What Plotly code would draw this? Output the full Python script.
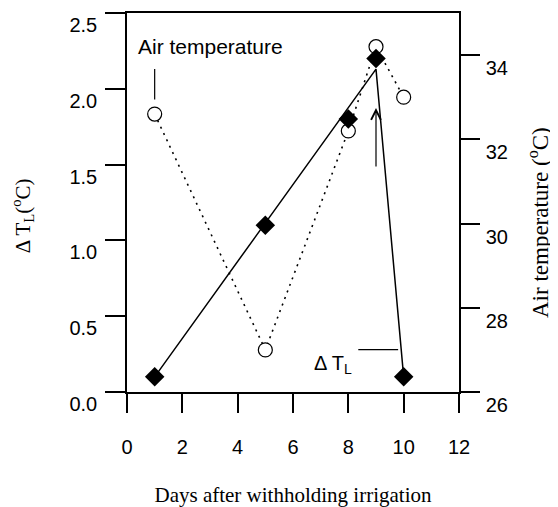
import plotly.graph_objects as go

# ---- data ----
days = [1, 5, 8, 9, 10]
delta_tl = [0.1, 1.1, 1.8, 2.2, 0.1]          # left axis, deg C
air_temp = [32.6, 27.0, 32.2, 34.2, 33.0]     # right axis, deg C
fit_days = [1, 9, 10]                           # fitted ΔT_L line
fit_delta = [0.1, 2.13, 0.1]

x_ticks = [0, 2, 4, 6, 8, 10, 12]
left_ticks = [0.0, 0.5, 1.0, 1.5, 2.0, 2.5]
left_labels = ["0.0", "0.5", "1.0", "1.5", "2.0", "2.5"]
right_ticks = [26, 28, 30, 32, 34]

SANS = "Liberation Sans, Arial, sans-serif"
SERIF = "Liberation Serif, Times New Roman, serif"
BLACK = "#000000"

fig = go.Figure()

# Air temperature (primary y, drawn on the right)
fig.add_trace(go.Scatter(
    x=days, y=air_temp, mode="lines+markers", yaxis="y",
    line=dict(color=BLACK, width=1.6, dash="2px,5px"),
    marker=dict(symbol="circle", size=14, color="white",
                line=dict(color=BLACK, width=1.2)),
    showlegend=False, cliponaxis=False))

# ΔT_L fitted line and points (overlay y2, drawn on the left)
fig.add_trace(go.Scatter(
    x=fit_days, y=fit_delta, mode="lines", yaxis="y2",
    line=dict(color=BLACK, width=1.5), showlegend=False))
fig.add_trace(go.Scatter(
    x=days, y=delta_tl, mode="markers", yaxis="y2",
    marker=dict(symbol="diamond", size=15, color=BLACK,
                line=dict(color=BLACK, width=0)),
    showlegend=False, cliponaxis=False))

# annotations / leader lines
fig.add_shape(type="line", xref="x", yref="y2", x0=1, x1=1, y0=1.93, y1=2.13,
              line=dict(color=BLACK, width=1.2))
fig.add_annotation(x=1, y=2.28, xref="x", yref="y2", xanchor="left",
                   xshift=-19, text="Air temperature", showarrow=False,
                   font=dict(family=SANS, size=21, color=BLACK))
fig.add_shape(type="line", xref="x", yref="y2", x0=8.36, x1=9.8, y0=0.28, y1=0.28,
              line=dict(color=BLACK, width=1.2))
fig.add_annotation(x=8.2, y=0.18, xref="x", yref="y2", xanchor="right",
                   text="Δ T<sub>L</sub>", showarrow=False,
                   font=dict(family=SANS, size=20, color=BLACK))
fig.add_annotation(x=9, y=1.874, ax=9, ay=1.478, xref="x", yref="y2",
                   axref="x", ayref="y2", text="", showarrow=True,
                   arrowhead=5, arrowsize=1.6, arrowwidth=1.2, arrowcolor=BLACK)

# y-axis titles (placed as rotated annotations to match the reference position)
fig.add_annotation(x=-0.307, y=0.464, xref="paper", yref="paper", xshift=-3,
                   xanchor="center", yanchor="middle", textangle=-90,
                   text="Δ T<sub>L</sub>(<sup>o</sup>C)", showarrow=False,
                   font=dict(family=SERIF, size=21, color=BLACK))
fig.add_annotation(x=1.253, y=0.4485, xref="paper", yref="paper", xshift=-5,
                   xanchor="center", yanchor="middle", textangle=-90,
                   text="Air temperature (<sup>o</sup>C)", showarrow=False,
                   font=dict(family=SERIF, size=23, color=BLACK))

common = dict(ticks="outside", tickwidth=1.5, tickcolor=BLACK, showline=True,
              linecolor=BLACK, linewidth=1.5, showgrid=False, zeroline=False,
              automargin=False, ticklabeloverflow="allow",
              tickfont=dict(family=SANS, size=20, color=BLACK))

# page body has an 8px margin, so the figure is 8px smaller each way
fig.update_layout(
    width=550, height=499,
    margin=dict(l=119, r=99, t=5, b=115),
    plot_bgcolor="white", paper_bgcolor="white",
    font=dict(family=SANS, size=20, color=BLACK),
    xaxis=dict(range=[0, 12], tickvals=x_ticks, ticklen=19, mirror=True,
               ticklabelstandoff=17,
               title=dict(text="Days after withholding irrigation",
                          font=dict(family=SERIF, size=21), standoff=32),
               **common),
    yaxis=dict(range=[26, 35], tickvals=right_ticks, side="right", anchor="x",
               ticklen=19, ticklabelshift=13, ticklabelstandoff=2, **common),
    yaxis2=dict(range=[0, 2.5], tickvals=left_ticks, ticktext=left_labels,
                side="left", overlaying="y", anchor="x",
                ticklen=20, ticklabelshift=12, ticklabelstandoff=4, **common),
)

fig.write_html("out.html")
